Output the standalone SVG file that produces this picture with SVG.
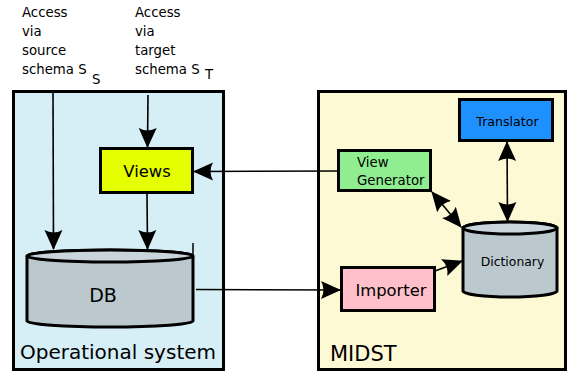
<svg xmlns="http://www.w3.org/2000/svg" width="567" height="373" viewBox="0 0 567 373">
<style>
text{font-family:"DejaVu Sans",sans-serif;fill:#000}
.box{stroke:#000;stroke-width:3}
.node{stroke:#000;stroke-width:3}
.c{stroke:#000;stroke-width:1.6;fill:none}
.lbl{font-size:13.3px}
</style>
<defs>
<marker id="ah" viewBox="0 0 20 20" refX="19" refY="10" markerWidth="20" markerHeight="20" markerUnits="userSpaceOnUse" orient="auto-start-reverse">
<path d="M0,1 L20,10 L0,19 Q5,10 0,1 Z" fill="#000"/>
</marker>
</defs>
<g id="operational-system">
<rect class="box" x="13.5" y="91.5" width="210" height="278" fill="#d6eef6"/>
<text x="20" y="359" font-size="20">Operational system</text>
</g>
<g id="midst">
<rect class="box" x="318.5" y="91.5" width="247" height="278" fill="#fdf9d4"/>
<text x="330" y="361" font-size="21">MIDST</text>
</g>
<g id="label-source">
<text class="lbl" x="22" y="17">Access</text>
<text class="lbl" x="22" y="36">via</text>
<text class="lbl" x="22" y="55">source</text>
<text class="lbl" x="22" y="74">schema S</text>
<text class="lbl" x="92" y="84">S</text>
</g>
<g id="label-target">
<text class="lbl" x="135" y="17">Access</text>
<text class="lbl" x="135" y="36">via</text>
<text class="lbl" x="135" y="55">target</text>
<text class="lbl" x="135" y="74">schema S</text>
<text class="lbl" x="205" y="79">T</text>
</g>
<g id="views">
<rect class="node" x="100.5" y="148.5" width="92" height="44" fill="#e6ff00"/>
<text x="147" y="177" font-size="16.4" text-anchor="middle">Views</text>
</g>
<g id="db">
<path class="node" d="M27,256 L27,321 A83,6 0 0 0 193,321 L193,256 A83,6 0 0 0 27,256 Z" fill="#bbc9cf"/>
<ellipse class="node" cx="110" cy="256" rx="83" ry="6" fill="#c9d5da"/>
<line x1="193" y1="243" x2="193" y2="256" stroke="#000" stroke-width="1.5"/>
<text x="103" y="302" font-size="19" text-anchor="middle">DB</text>
</g>
<g id="view-generator">
<rect class="node" x="338.5" y="150.5" width="92" height="40" fill="#90ee90"/>
<text x="357" y="167" font-size="13.3">View</text>
<text x="357" y="185" font-size="13.3">Generator</text>
</g>
<g id="translator">
<rect class="node" x="459.5" y="99.5" width="93" height="41" fill="#1e90ff"/>
<text x="507.5" y="126" font-size="12.6" text-anchor="middle">Translator</text>
</g>
<g id="dictionary">
<path class="node" d="M463,228 L463,291 A47,6 0 0 0 557,291 L557,228 A47,6 0 0 0 463,228 Z" fill="#bbc9cf"/>
<ellipse class="node" cx="510" cy="228" rx="47" ry="6" fill="#c9d5da"/>
<text x="512.5" y="266" font-size="12.4" text-anchor="middle">Dictionary</text>
</g>
<g id="importer">
<rect class="node" x="341.5" y="267.5" width="93" height="43" fill="#ffc0cb"/>
<text x="391" y="296" font-size="16.4" text-anchor="middle">Importer</text>
</g>
<g id="connectors">
<line class="c" x1="53" y1="92" x2="53.5" y2="249" marker-end="url(#ah)"/>
<line class="c" x1="148" y1="95" x2="147.5" y2="147" marker-end="url(#ah)"/>
<line class="c" x1="147" y1="194" x2="147.5" y2="249" marker-end="url(#ah)"/>
<line class="c" x1="338" y1="171" x2="194" y2="171.5" marker-end="url(#ah)"/>
<line class="c" x1="196" y1="289.5" x2="340" y2="290" marker-end="url(#ah)"/>
<line class="c" x1="435" y1="271" x2="462" y2="261" marker-end="url(#ah)"/>
<line class="c" x1="507" y1="142" x2="507.5" y2="221" marker-start="url(#ah)" marker-end="url(#ah)"/>
<line class="c" x1="432" y1="192" x2="461" y2="227" marker-start="url(#ah)" marker-end="url(#ah)"/>
</g>
</svg>
